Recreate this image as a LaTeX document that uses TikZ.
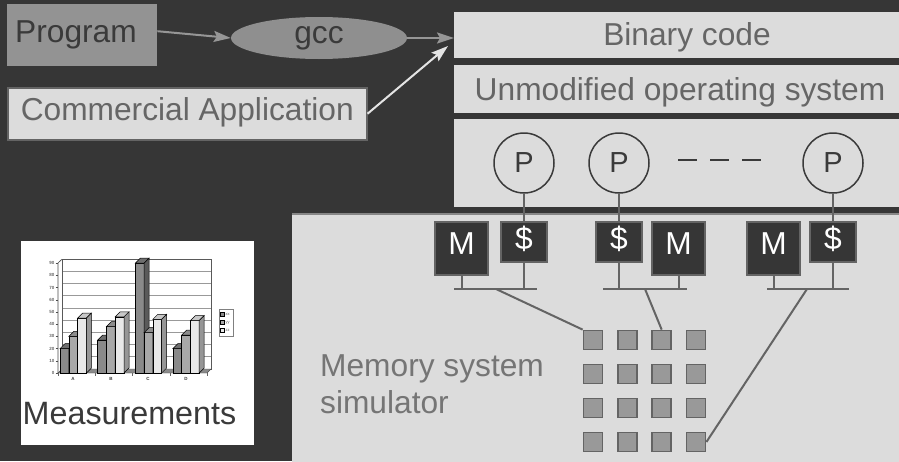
\documentclass[tikz,border=0pt]{standalone}
\usepackage{fontspec}
\setmainfont{Liberation Sans}
\usetikzlibrary{shapes.geometric,arrows.meta,calc}

\definecolor{bg}{RGB}{54,54,54}
\definecolor{panelgray}{RGB}{220,220,220}
\definecolor{midtext}{RGB}{102,102,102}
\definecolor{darktext}{RGB}{58,58,58}
\definecolor{wiregray}{RGB}{100,100,100}
\definecolor{arrowgray}{RGB}{150,150,150}
\definecolor{arrowlight}{RGB}{228,228,228}
\definecolor{progfill}{RGB}{147,147,147}
\definecolor{gccfill}{RGB}{143,143,143}
\definecolor{cellfill}{RGB}{153,153,153}
% bar chart shades: front (F), top (T), side (S)
\definecolor{bar0F}{RGB}{138,138,138}
\definecolor{bar0T}{RGB}{110,110,110}
\definecolor{bar0S}{RGB}{90,90,90}
\definecolor{bar1F}{RGB}{168,168,168}
\definecolor{bar1T}{RGB}{140,140,140}
\definecolor{bar1S}{RGB}{120,120,120}
\definecolor{bar2F}{RGB}{232,232,232}
\definecolor{bar2T}{RGB}{200,200,200}
\definecolor{bar2S}{RGB}{150,150,150}

\begin{document}
\begin{tikzpicture}[x=1pt,y=-1pt,
  bigfont/.style={font=\fontsize{31.7}{37}\selectfont},
  panel/.style={fill=panelgray,draw=none,inner sep=0pt,outer sep=0pt,anchor=north west},
  lbl/.style={bigfont,text=midtext,inner sep=0pt},
  proc/.style={circle,draw=darktext,line width=1.5pt,fill=panelgray,minimum size=60pt,inner sep=0pt,
               font=\fontsize{29}{34}\selectfont,text=darktext},
  mbox/.style={draw=wiregray,line width=2pt,fill=bg,minimum width=53pt,minimum height=53pt,inner sep=0pt,
               text=white,bigfont,text height=22pt,text depth=10pt},
  cbox/.style={draw=wiregray,line width=2pt,fill=bg,minimum width=46pt,minimum height=40pt,inner sep=0pt,
               text=white,bigfont,text height=22pt,text depth=8pt},
  wire/.style={draw=wiregray,line width=2pt},
  cell/.style={draw=wiregray,line width=1.8pt,fill=cellfill,minimum size=19pt,inner sep=0pt},
  arr/.style={-{Stealth[length=17pt,width=11pt,inset=3pt]},line width=2pt},
  tiny/.style={font=\fontsize{4.5}{5}\selectfont\bfseries,text=darktext,inner sep=0.5pt}
]
\useasboundingbox (0,0) rectangle (899,461);
\clip (0,0) rectangle (899,461);
\fill[bg] (0,0) rectangle (899,461);

% ---------- layered target machine ----------
\node[panel,minimum width=466pt,minimum height=46pt] (bin) at (454,12) {};
\node[panel,minimum width=466pt,minimum height=48pt] (os) at (454,65) {};
\node[panel,minimum width=466pt,minimum height=88pt] (ppanel) at (454,119) {};
\node[panel,minimum width=620pt,minimum height=260pt] (mem) at (292,214) {};
\draw[draw=arrowgray!90!black,line width=1.5pt] (mem.north west) -- (mem.north east);

\node[lbl,anchor=base] (bintxt) at (687,45) {Binary code};
\node[lbl,anchor=base] (ostxt) at (680,100) {Unmodified operating system};

% processors
\node[proc] (p1) at (524,163) {P};
\node[proc] (p2) at (619,163) {P};
\node[proc] (p3) at (833,163) {P};
\draw[darktext,line width=1.5pt,dash pattern=on 19pt off 13pt] (678,160) -- (762,160);

% memories and caches
\node[mbox] (m1) at (461.5,248.5) {M};
\node[cbox] (c1) at (524,242) {\$};
\node[cbox] (c2) at (619,242) {\$};
\node[mbox] (m2) at (678.5,248.5) {M};
\node[mbox] (m3) at (773.5,248.5) {M};
\node[cbox] (c3) at (833,242) {\$};

\draw[wire] (p1.south) -- (c1.north);
\draw[wire] (p2.south) -- (c2.north);
\draw[wire] (p3.south) -- (c3.north);

% local buses
\coordinate (bus1l) at (454,289); \coordinate (bus1r) at (537,289);
\coordinate (bus2l) at (603,289); \coordinate (bus2r) at (687,289);
\coordinate (bus3l) at (767,289); \coordinate (bus3r) at (849,289);
\coordinate (b1) at (496,289);
\coordinate (b2) at (645,289);
\coordinate (b3) at (807,289);
\draw[wire] (bus1l) -- (bus1r);
\draw[wire] (bus2l) -- (bus2r);
\draw[wire] (bus3l) -- (bus3r);
\draw[wire] (m1.south) -- (m1.south |- bus1l);
\draw[wire] (c1.south) -- (c1.south |- bus1l);
\draw[wire] (c2.south) -- (c2.south |- bus2l);
\draw[wire] (m2.south) -- (m2.south |- bus2l);
\draw[wire] (m3.south) -- (m3.south |- bus3l);
\draw[wire] (c3.south) -- (c3.south |- bus3l);

% interconnect grid
\foreach \r in {0,...,3}
  \foreach \c in {0,...,3}
    \node[cell] (g\r\c) at (593+\c*34.33,340+\r*34) {};
\draw[wire] (b1) -- (g00.north west);
\draw[wire] (b2) -- (g02.north);
\draw[wire] (b3) -- (g33.east);

\node[bigfont,text=midtext!90!white,anchor=north west,align=left,inner sep=0pt] (memtxt)
  at (320,354.5) {Memory system\\simulator};

% ---------- tool flow ----------
\node[fill=progfill,anchor=north west,minimum width=150pt,minimum height=62pt,inner xsep=8pt,inner ysep=0pt,
      text width=134pt,align=left,bigfont,text=darktext] (prog) at (7,4) {Program};
\node[ellipse,fill=gccfill,minimum width=176pt,minimum height=42pt,inner sep=0pt,bigfont,text=darktext]
  (gcc) at (319,38) {gcc};
\node[fill=panelgray,draw=wiregray,line width=1.5pt,anchor=north west,minimum width=359pt,minimum height=52pt,
      inner sep=0pt,bigfont,text=midtext,text height=22pt,text depth=8pt] (app) at (7,87) {Commercial Application};

\draw[arr,arrowgray] ([yshift=4pt]prog.east) -- (gcc.west);
\draw[arr,arrowgray] (gcc.east) -- (gcc.east -| bin.west);
\draw[arr,arrowlight] (app.east) -- ($(bin.west)+(-6,11)$);

% ---------- measurements ----------
\node[fill=white,anchor=north west,minimum width=233pt,minimum height=204pt,inner sep=0pt] (meas) at (21,241) {};
\node[font=\fontsize{32.3}{38}\selectfont,text=darktext,anchor=base,inner sep=0pt] (meastxt)
  at (129.5,424) {Measurements};

% back wall with grid lines
\fill[white] (62,369) rectangle (211,259);
\foreach \k in {1,...,8}
  \draw[gray!80,line width=0.8pt] (62,369-\k*12.2) -- (211,369-\k*12.2);
\draw[gray!70!black,line width=0.5pt] (62,369) rectangle (211,259.2);
% floor
\filldraw[fill=bar0F,draw=black!70,line width=0.4pt] (58,373) -- (207,373) -- (211,369) -- (62,369) -- cycle;
% value axis
\draw[black!70,line width=0.6pt] (58,373) -- (58,263) -- (62,259.2);
\foreach \k in {0,...,9}{
  \draw[black!70,line width=0.5pt] (55.5,373-\k*12.2) -- (58,373-\k*12.2);
  \node[tiny,anchor=east,text=black!60] (yl\k) at (55,373-\k*12.2) {\pgfmathparse{int(\k*10)}\pgfmathresult};
}
% category ticks and labels
\foreach \k in {0,...,4}
  \draw[black!60,line width=0.5pt] (58+\k*37.3,373) -- (58+\k*37.3,376);
\foreach \n/\x in {A/73,B/111,C/148,D/186}
  \node[tiny,anchor=north] (cat\n) at (\x,377) {\n};

% bars
\foreach \g/\i/\v in {0/0/20,0/1/30,0/2/45,1/0/27,1/1/38,1/2/46,2/0/90,2/1/33,2/2/44,3/0/20,3/1/31,3/2/43}{
  \pgfmathsetmacro\xa{60+\g*37.6+\i*8.8}
  \pgfmathsetmacro\xb{\xa+8.8}
  \pgfmathsetmacro\yt{373-\v*1.22}
  \filldraw[fill=bar\i F,draw=black,line width=0.5pt] (\xa,373) rectangle (\xb,\yt);
  \filldraw[fill=bar\i T,draw=black,line width=0.5pt] (\xa,\yt) -- (\xb,\yt) -- (\xb+5,\yt-5) -- (\xa+5,\yt-5) -- cycle;
  \filldraw[fill=bar\i S,draw=black,line width=0.5pt] (\xb,373) -- (\xb,\yt) -- (\xb+5,\yt-5) -- (\xb+5,368) -- cycle;
}

% legend
\node[draw=gray,fill=white,line width=0.5pt,anchor=north west,minimum width=14pt,minimum height=27pt,inner sep=0pt]
  (legend) at (219,309) {};
\foreach \i/\t/\y in {0/xx/314.5,1/yy/322.5,2/zz/330.5}{
  \filldraw[fill=bar\i F,draw=black,line width=0.3pt] (220.5,\y-2) rectangle (224.5,\y+2);
  \node[font=\fontsize{4}{4.5}\selectfont,text=black!60,anchor=west,inner sep=0.3pt] (leg\t) at (225,\y) {\t};
}
\end{tikzpicture}
\end{document}
